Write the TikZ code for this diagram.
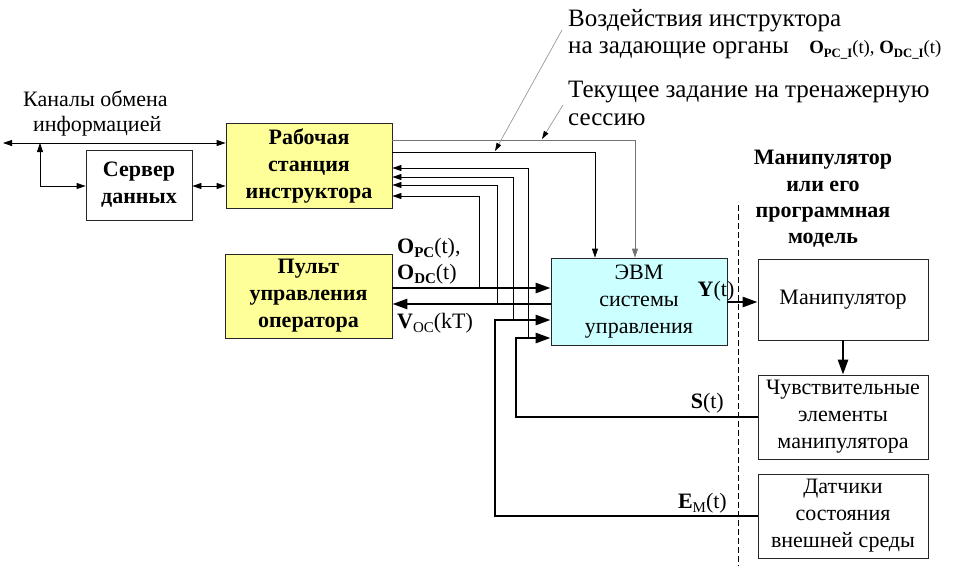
\documentclass[tikz,border=0pt]{standalone}
\usepackage{graphicx}
\usepackage{fontspec}
\setmainfont{Liberation Serif}
\usetikzlibrary{arrows.meta}
\definecolor{boxyellow}{RGB}{255,255,153}
\definecolor{boxcyan}{RGB}{204,255,255}
\newcommand\lo[1]{\raisebox{-0.22em}{\scalebox{0.68}{#1}}}
\newcommand\bigtxt[1]{\scalebox{1.1364}{#1}}
\begin{document}
\begin{tikzpicture}[x=1pt,y=-1pt,
  font=\fontsize{22}{27}\selectfont,
  box/.style={draw=black!85, line width=0.8pt, align=center, inner sep=0pt},
  ybox/.style={box, fill=boxyellow, font=\fontsize{22}{27}\selectfont\bfseries},
  thinln/.style={line width=0.8pt, black},
  thickln/.style={line width=2.6pt, black},
  tarr/.style={-{Triangle[length=9pt,width=6pt]}},
  Tarr/.style={-{Triangle[length=15pt,width=10pt]}},
  ptr/.style={black!40, line width=0.7pt, -{Triangle[length=8pt,width=5pt,color=black]}},
  lbl/.style={inner sep=0pt, anchor=base west},
  toptxt/.style={inner sep=0pt, anchor=base west},
  ttl/.style={inner sep=0pt, anchor=base, font=\fontsize{22}{27}\selectfont\bfseries}]
\useasboundingbox (0,0) rectangle (956,566);

% boxes
\node[box, minimum width=106pt, minimum height=70pt, font=\fontsize{22}{27}\selectfont\bfseries] (srv) at (139,185) {Сервер\\данных};
\node[ybox, minimum width=166pt, minimum height=85pt] (rs) at (309,165.5) {Рабочая\\станция\\инструктора};
\node[ybox, minimum width=167pt, minimum height=84pt] (pult) at (308.5,296) {Пульт\\управления\\оператора};
\node[box, fill=boxcyan, minimum width=176pt, minimum height=87pt] (evm) at (639,301.5) {ЭВМ\\системы\\управления};
\node[box, minimum width=170pt, minimum height=81pt] (man) at (843,299.5) {Манипулятор};
\node[box, minimum width=170pt, minimum height=84pt] (sens) at (843,417) {Чувствительные\\элементы\\манипулятора};
\node[box, minimum width=170pt, minimum height=84pt] (dat) at (843,516) {Датчики\\состояния\\внешней среды};

% texts
\node[lbl] (ch1) at (23,106) {Каналы обмена};
\node[lbl] (ch2) at (33,131) {информацией};
\node[toptxt] (v1) at (568,26) {\bigtxt{Воздействия инструктора}};
\node[toptxt] (v2) at (568,53) {\bigtxt{на задающие органы\hspace{18pt}\scalebox{0.75}{\textbf{O}\lo{\textbf{PC\_I}}(t), \textbf{O}\lo{\textbf{DC\_I}}(t)}}};
\node[toptxt] (c1) at (568,97) {\bigtxt{Текущее задание на тренажерную}};
\node[toptxt] (c2) at (568,125) {\bigtxt{сессию}};
\node[ttl] (m1) at (823,164) {Манипулятор};
\node[ttl] (m2) at (823,191) {или его};
\node[ttl] (m3) at (823,217) {программная};
\node[ttl] (m4) at (823,243) {модель};
\node[lbl] (opc) at (397,253) {\textbf{O}\lo{\textbf{PC}}(t),};
\node[lbl] (odc) at (397,279) {\textbf{O}\lo{\textbf{DC}}(t)};
\node[lbl] (voc) at (397,328) {\textbf{V}\lo{OC}(kT)};
\node[lbl, anchor=base] (yl) at (716,296) {\textbf{Y}(t)};
\node[lbl, anchor=base east] (sl) at (724,408) {\textbf{S}(t)};
\node[lbl, anchor=base east] (el) at (727,508) {\textbf{E}\lo{M}(t)};

% coordinates
\coordinate (chL) at (3,143);
\coordinate (tap) at (40,143);
\coordinate (tapb) at (40,186);
\coordinate (fS) at (528,338);
\coordinate (fE) at (513,320);
\coordinate (fV) at (497,304);
\coordinate (fO) at (479,288);
\coordinate (dtop) at (738,205);
\coordinate (dbot) at (738,566);
\coordinate (p1s) at (562,30);
\coordinate (p1e) at (495,151);
\coordinate (p2s) at (563,105);
\coordinate (p2e) at (542,139);

% information channels
\draw[thinln, {Triangle[length=9pt,width=6pt]}-{Triangle[length=9pt,width=6pt]}] (chL) -- (rs.west |- chL);
\draw[thinln, tarr] (tapb) -- (tap);
\draw[thinln, tarr] (tapb) -- (srv.west |- tapb);
\draw[thinln, {Triangle[length=9pt,width=6pt]}-{Triangle[length=9pt,width=6pt]}] (srv.east |- tapb) -- (rs.west |- tapb);

% instructor to computer
\draw[line width=0.8pt, black!55, tarr] (rs.east |- 0,140) -| (evm.north -| 635,0);
\draw[thinln, tarr] (rs.east |- 0,152) -| (evm.north -| 595,0);

% feedback to instructor
\draw[thinln, tarr] (fS) |- (rs.east |- 0,168);
\draw[thinln, tarr] (fE) |- (rs.east |- 0,177);
\draw[thinln, tarr] (fV) |- (rs.east |- 0,185);
\draw[thinln, tarr] (fO) |- (rs.east |- 0,196);

% thick signals
\draw[thickln, Tarr] (pult.east |- 0,288) -- (evm.west |- 0,288);
\draw[thickln, Tarr] (evm.west |- 0,304) -- (pult.east |- 0,304);
\draw[thickln, Tarr] (evm.east |- 0,302) -- (man.west |- 0,302);
\draw[thickln, Tarr] (man.south) -- (sens.north);
\draw[thickln, Tarr] (sens.west) -| (516,338) -- (evm.west |- 0,338);
\draw[thickln, Tarr] (dat.west) -| (495,320) -- (evm.west |- 0,320);

% dashed boundary
\draw[line width=0.8pt, dash pattern=on 6pt off 3pt] (dtop) -- (dbot);

% pointers
\draw[ptr] (p1s) -- (p1e);
\draw[ptr] (p2s) -- (p2e);
\end{tikzpicture}
\end{document}
